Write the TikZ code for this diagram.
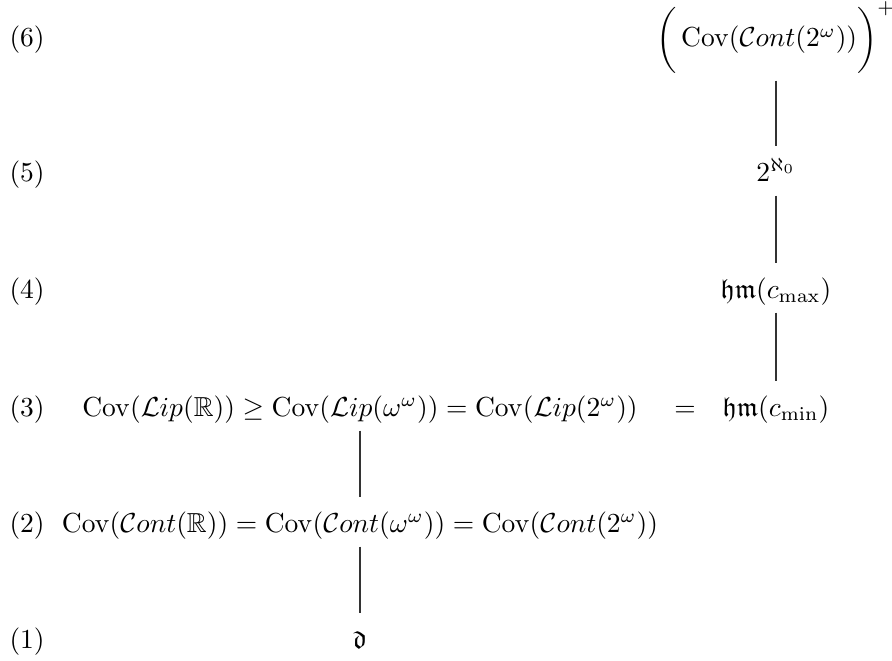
\documentclass[tikz,border=0pt]{standalone}
\usepackage{amsmath,amssymb}
\begin{document}
\begin{tikzpicture}[x=0.3636pt,y=-0.3636pt,
  lbl/.style={anchor=base west,inner sep=0pt},
  cell/.style={anchor=base,inner xsep=0pt,inner ysep=0pt,text height=12.7pt,text depth=5.1pt},
  conn/.style={draw=black!80,line width=0.4pt}]
\useasboundingbox (0,0) rectangle (892,660);
% row labels
\node[lbl] (l6) at (9,47)  {(6)};
\node[lbl] (l5) at (9,181) {(5)};
\node[lbl] (l4) at (9,298) {(4)};
\node[lbl] (l3) at (9,416) {(3)};
\node[lbl] (l2) at (9,532) {(2)};
\node[lbl] (l1) at (9,648) {(1)};
% right column
\node[anchor=base,inner sep=2.5pt] (r6) at (776,47)
  {$\biggl(\,\mathrm{Cov}(\mathcal{C}ont(2^{\omega}))\biggr)^{+}$};
\node[cell] (r5) at (776,181) {$2^{\aleph_0}$};
\node[cell] (r4) at (776,298) {$\mathfrak{hm}(c_{\max})$};
\node[cell] (r3r) at (776,416) {$\mathfrak{hm}(c_{\min})$};
\node[cell] (eq) at (685,416) {$=$};
% left column
\node[cell] (r3l) at (360,416)
  {$\mathrm{Cov}(\mathcal{L}ip(\mathbb{R}))\geq\mathrm{Cov}(\mathcal{L}ip(\omega^{\omega}))=\mathrm{Cov}(\mathcal{L}ip(2^{\omega}))$};
\node[cell] (r2) at (360,532)
  {$\mathrm{Cov}(\mathcal{C}ont(\mathbb{R}))=\mathrm{Cov}(\mathcal{C}ont(\omega^{\omega}))=\mathrm{Cov}(\mathcal{C}ont(2^{\omega}))$};
\node[cell] (r1) at (360,648) {$\mathfrak{d}$};
% connectors
\draw[conn] (r6) -- (r5);
\draw[conn] (r5) -- (r4);
\draw[conn] (r4) -- (r3r);
\draw[conn] (r3l) -- (r2);
\draw[conn] (r2) -- (r1);
\end{tikzpicture}
\end{document}
